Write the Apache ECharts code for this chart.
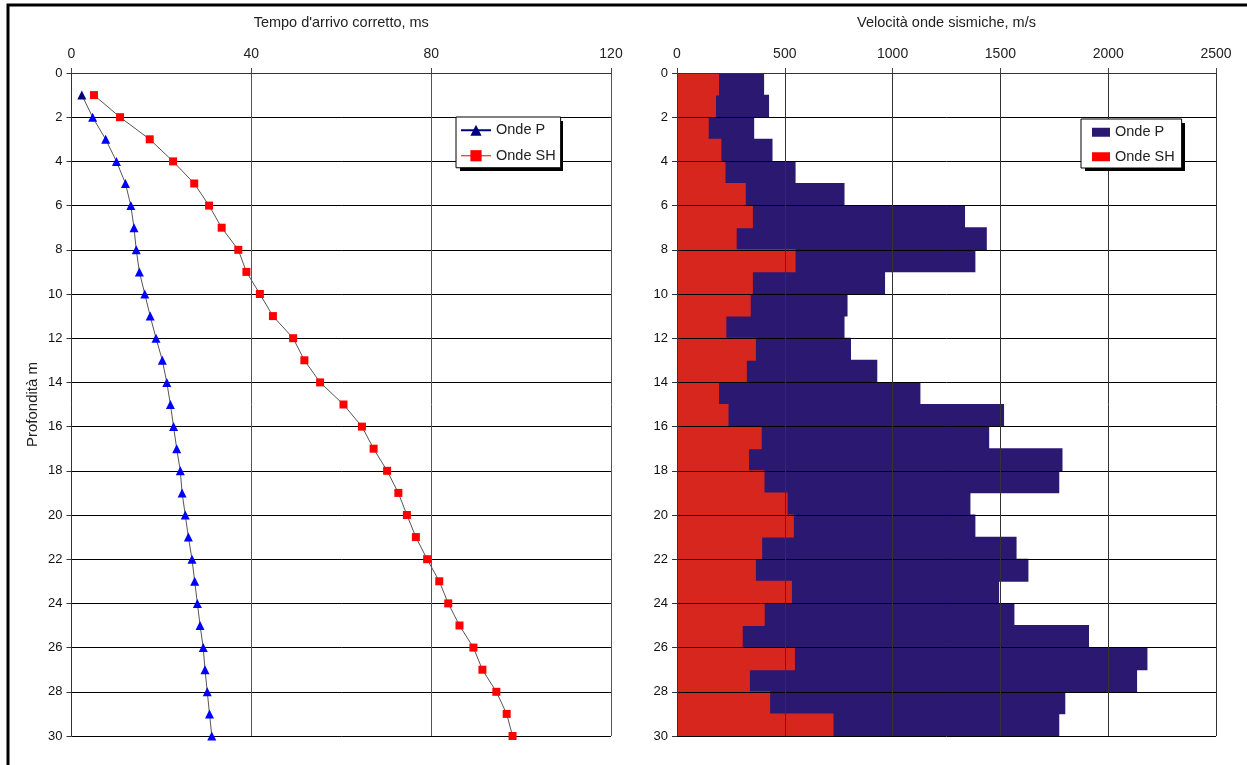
<!DOCTYPE html>
<html>
<head>
<meta charset="utf-8">
<script src="https://cdn.jsdelivr.net/npm/echarts@6/dist/echarts.min.js"></script>
<style>html,body{margin:0;padding:0;background:#fff}#c{width:1247px;height:765px}</style>
</head>
<body>
<div id="c"></div>
<script>
// Depths (m) for arrival-time points
var depths = [1,2,3,4,5,6,7,8,9,10,11,12,13,14,15,16,17,18,19,20,21,22,23,24,25,26,27,28,29,30];
// Corrected arrival times (ms)
var timeP  = [2.3,4.7,7.6,10.0,12.0,13.2,13.9,14.4,15.1,16.3,17.5,18.8,20.2,21.2,22.0,22.7,23.4,24.2,24.6,25.3,26.0,26.8,27.4,28.0,28.6,29.3,29.7,30.2,30.7,31.2];
var timeSH = [5.0,10.8,17.4,22.6,27.3,30.6,33.4,37.1,38.9,41.9,44.8,49.3,51.8,55.3,60.5,64.6,67.2,70.2,72.7,74.6,76.6,79.1,81.8,83.8,86.3,89.4,91.4,94.5,96.8,98.1];
// Depth intervals (m) for velocity bars
var intervals = ['0-1','1-2','2-3','3-4','4-5','5-6','6-7','7-8','8-9','9-10','10-11','11-12','12-13','13-14','14-15','15-16','16-17','17-18','18-19','19-20','20-21','21-22','22-23','23-24','24-25','25-26','26-27','27-28','28-29','29-30'];
// Seismic velocities (m/s)
var velP  = [404,427,358,443,550,777,1336,1437,1384,965,791,777,807,929,1129,1517,1448,1788,1773,1361,1384,1575,1630,1494,1565,1911,2182,2134,1801,1773];
var velSH = [195,181,147,206,225,319,352,277,550,352,342,229,366,324,195,239,393,334,406,513,542,395,366,533,407,305,547,338,432,726];
// Axis ticks
var timeMax = 120, timeStep = 40;
var velMax = 2500, velStep = 500;
var depthMax = 30, depthStep = 2;

var FONT = 'Liberation Sans';
var chart = echarts.init(document.getElementById('c'));

function pairs(xs){ return xs.map(function(v,i){ return [v, depths[i]]; }); }
var pData = pairs(timeP).map(function(p,i){
  return i===0 ? {value:p, itemStyle:{color:'#000080'}} : p;
});
var nameMap = {'VP':'Onde P','VSH':'Onde SH'};
function plain(v){ return String(v); }

var yBase = {
  type:'value', inverse:true, min:0, max:depthMax, interval:depthStep, position:'left',
  axisLine:{show:true, onZero:false, lineStyle:{color:'#333', width:1}},
  axisTick:{show:true, inside:false, length:5, lineStyle:{color:'#333'}},
  axisLabel:{fontFamily:FONT, fontSize:13, color:'#111', margin:9},
  splitLine:{show:true, lineStyle:{color:'#000', width:1}}
};
var xName = {fontFamily:FONT, fontSize:14.5, color:'#222'};
var xLab = {fontFamily:FONT, fontSize:14, color:'#222', margin:12, formatter:plain};

chart.setOption({
  animation:false,
  backgroundColor:'#fff',
  textStyle:{fontFamily:FONT},
  graphic:[
    {type:'rect', shape:{x:8, y:5, width:1300, height:820},
     style:{fill:'none', stroke:'#000', lineWidth:3}, z:100, silent:true},
    {type:'rect', shape:{x:460, y:121, width:103, height:50}, style:{fill:'#000'}, z:5, silent:true},
    {type:'rect', shape:{x:1085, y:123, width:100, height:48}, style:{fill:'#000'}, z:5, silent:true}
  ],
  grid:[
    {left:71.5, top:73, width:539.5, height:663},
    {left:677, top:73, width:539, height:663}
  ],
  xAxis:[
    {gridIndex:0, type:'value', position:'top', min:0, max:timeMax, interval:timeStep,
     name:"Tempo d'arrivo corretto, ms", nameLocation:'middle', nameGap:43, nameTextStyle:xName,
     axisLine:{show:true, onZero:false, lineStyle:{color:'#333'}},
     axisTick:{show:true, length:5, lineStyle:{color:'#444'}},
     axisLabel:xLab,
     splitLine:{show:true, lineStyle:{color:'#555', width:1}}},
    {gridIndex:1, type:'value', position:'top', min:0, max:velMax, interval:velStep, z:3,
     name:'Velocità onde sismiche, m/s', nameLocation:'middle', nameGap:43, nameTextStyle:xName,
     axisLine:{show:true, onZero:false, lineStyle:{color:'#333'}},
     axisTick:{show:true, length:5, lineStyle:{color:'#444'}},
     axisLabel:xLab,
     splitLine:{show:true, lineStyle:{color:'#333', width:1}}}
  ],
  yAxis:[
    echarts.util.merge({gridIndex:0, name:'Profondità m', nameLocation:'middle', nameGap:31, nameRotate:90,
      nameTextStyle:{fontFamily:FONT, fontSize:15, color:'#222'}}, yBase, true),
    echarts.util.merge({gridIndex:1, z:3}, yBase, true),
    {gridIndex:1, type:'category', inverse:true, data:intervals, boundaryGap:true,
     show:false, axisLine:{show:false}, axisTick:{show:false}, axisLabel:{show:false}, splitLine:{show:false}}
  ],
  legend:[
    {orient:'vertical', left:456, top:117, z:10, padding:[5.75,5,4.5,4], itemGap:10.5, itemWidth:30, itemHeight:14,
     backgroundColor:'#fff', borderColor:'#000', borderWidth:1,
     textStyle:{fontFamily:FONT, fontSize:14.5, color:'#222'},
     data:[
       {name:'Onde P', itemStyle:{color:'#000080'}, lineStyle:{color:'#000080', width:2}},
       {name:'Onde SH', itemStyle:{color:'#ff0000'}, lineStyle:{color:'#ff0000', width:1}}
     ]},
    {orient:'vertical', left:1081, top:119, z:10, padding:[5.75,7,3.75,11], itemGap:9.5, itemWidth:18, itemHeight:9,
     backgroundColor:'#fff', borderColor:'#000', borderWidth:1,
     textStyle:{fontFamily:FONT, fontSize:14.5, color:'#222'},
     formatter:function(n){ return nameMap[n]; },
     data:[
       {name:'VP', icon:'rect', itemStyle:{color:'#2b1870', borderWidth:0}},
       {name:'VSH', icon:'rect', itemStyle:{color:'#ff0000', borderWidth:0}}
     ]}
  ],
  series:[
    {name:'Onde P', type:'line', xAxisIndex:0, yAxisIndex:0, data:pData,
     symbol:'triangle', symbolSize:9, itemStyle:{color:'#0000ff'},
     lineStyle:{color:'#555', width:1}, z:3},
    {name:'Onde SH', type:'line', xAxisIndex:0, yAxisIndex:0, data:pairs(timeSH),
     symbol:'rect', symbolSize:8, itemStyle:{color:'#ff0000'},
     lineStyle:{color:'#555', width:1}, z:3},
    {name:'VP', type:'bar', xAxisIndex:1, yAxisIndex:2, data:velP,
     barWidth:'104%', barGap:'-100%', itemStyle:{color:'#2b1870'}, z:1},
    {name:'VSH', type:'bar', xAxisIndex:1, yAxisIndex:2, data:velSH,
     barWidth:'104%', barGap:'-100%', itemStyle:{color:'#d7261e'}, z:2}
  ]
});
</script>
</body>
</html>
